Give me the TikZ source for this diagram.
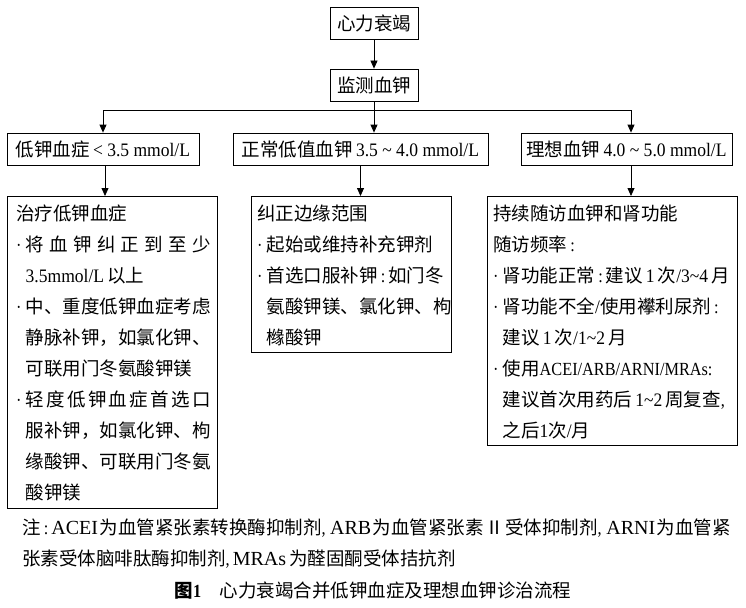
\documentclass[tikz,border=0pt]{standalone}
\usepackage{fontspec}
\setmainfont{Liberation Serif}
\newfontfamily\cjk{Noto Sans CJK SC}
\newfontfamily\lat[FakeStretch=0.88]{Liberation Serif}
\newfontfamily\latm[Scale=1.03,FakeStretch=0.92]{Liberation Serif}
\newfontfamily\latw[Scale=1.08]{Liberation Serif}
\usetikzlibrary{arrows.meta}
\newcommand\bl{\makebox[9.5pt][l]{\lat\textperiodcentered}}
\newcommand\ind{\hspace*{9.5pt}}
\newcommand\cln{{\lat\,:\,}}
\newcommand\cma{{\lat ,\,}}
\newcommand\gl{\hspace{1.5pt plus 1fil}}
\begin{document}
\begin{tikzpicture}[x=1pt,y=-1pt,
  box/.style={draw, line width=0.8pt, inner sep=0pt, font=\cjk\fontsize{18.5}{31}\selectfont},
  txt/.style={anchor=base west, inner sep=0pt, text width=300pt, align=left, font=\cjk\fontsize{18.5}{31}\selectfont},
  arr/.style={line width=0.8pt, -{Triangle[length=8pt,width=7pt]}}]
\useasboundingbox (0,0) rectangle (746,607);
% top boxes
\node[box, minimum width=88pt, minimum height=32pt] (a) at (374,23) {心力衰竭};
\node[box, minimum width=88pt, minimum height=32pt] (b) at (374,85) {监测血钾};
\coordinate (j) at (374,110);
% level boxes
\node[box, minimum width=192pt, minimum height=32pt] (ll) at (103,149) {低钾血症\,{\latm < 3.5 mmol/L}};
\node[box, minimum width=255pt, minimum height=32pt] (lm) at (360.5,149) {正常低值血钾\,{\latm 3.5 \textasciitilde{} 4.0 mmol/L}};
\node[box, minimum width=211pt, minimum height=32pt] (lr) at (626.5,149) {理想血钾\,{\latm 4.0 \textasciitilde{} 5.0 mmol/L}};
% detail boxes
\node[box, anchor=north west, minimum width=210pt, minimum height=312pt] (dl) at (7,196) {};
\node[box, anchor=north west, minimum width=200pt, minimum height=156pt] (dm) at (251,196) {};
\node[box, anchor=north west, minimum width=250pt, minimum height=249pt] (dr) at (487,196) {};
% texts in detail boxes
\node[txt] (tl) at (16,220) {治疗低钾血症\\
\bl\makebox[185pt][s]{将\hfil 血\hfil 钾\hfil 纠\hfil 正\hfil 到\hfil 至\hfil 少}\\
\ind{\latm 3.5mmol/L}\,以上\\
\bl 中、重度低钾血症考虑\\
\ind 静脉补钾，如氯化钾、\\
\ind 可联用门冬氨酸钾镁\\
\bl\makebox[185pt][s]{轻\hfil 度\hfil 低\hfil 钾\hfil 血\hfil 症\hfil 首\hfil 选\hfil 口}\\
\ind 服补钾，如氯化钾、枸\\
\ind 缘酸钾、可联用门冬氨\\
\ind 酸钾镁};
\node[txt] (tm) at (257,220) {纠正边缘范围\\
\bl 起始或维持补充钾剂\\
\bl 首选口服补钾\cln 如门冬\\
\ind 氨酸钾镁、氯化钾、枸\\
\ind 橼酸钾};
\node[txt] (tr) at (493,220) {持续随访血钾和肾功能\\
随访频率\cln\\
\bl 肾功能正常\cln 建议\,{\latm 1}\,次{\latm /3\textasciitilde 4}\,月\\
\bl 肾功能不全{\latm /}使用襻利尿剂\cln\\
\ind 建议\,{\latm 1}\,次{\latm /1\textasciitilde 2}\,月\\
\bl 使用{\lat ACEI/ARB/ARNI/MRAs}{\lat :}\\
\ind 建议首次用药后\,{\latm 1\textasciitilde 2}\,周复查\cma\\
\ind 之后{\latm 1}次{\latm /}月};
% connectors
\draw[arr] (a) -- (b);
\draw[line width=0.8pt] (b) -- (j);
\draw[arr] (j) -| (ll.north);
\draw[arr] (j) -- (j |- lm.north);
\draw[arr] (j) -| ([xshift=4.5pt]lr.north);
\draw[arr] ([xshift=2pt]ll.south) -- ([xshift=2pt]ll.south |- dl.north);
\draw[arr] (lm.south) -- (lm.south |- dm.north);
\draw[arr] ([xshift=4.5pt]lr.south) -- ([xshift=4.5pt]lr.south |- dr.north);
% footnote and caption
\node[txt, text width=720pt] (fn) at (22,534) {\makebox[702pt][s]{注\cln{\latw ACEI}\gl 为血管紧张素转换酶抑制剂\cma\gl{\latw ARB}\gl 为血管紧张素\gl Ⅱ\gl 受体抑制剂\cma\gl{\latw ARNI}\gl 为血管紧}\\
张素受体脑啡肽酶抑制剂\cma{\latw MRAs}\,为醛固酮受体拮抗剂};
\node[anchor=base, inner sep=0pt, font=\cjk\fontsize{18.5}{31}\selectfont] (cap) at (373,597) {{\bfseries 图{\lat 1}}\quad 心力衰竭合并低钾血症及理想血钾诊治流程};
\end{tikzpicture}
\end{document}
